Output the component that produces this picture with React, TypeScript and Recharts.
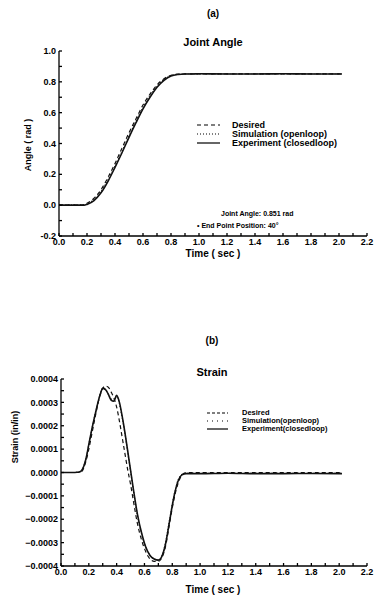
import React from 'react';
import { LineChart, Line, XAxis, YAxis } from 'recharts';

// ---------- shared ----------
const timeTicks = [0, 0.1, 0.2, 0.3, 0.4, 0.5, 0.6, 0.7, 0.8, 0.9, 1.0, 1.1, 1.2, 1.3, 1.4, 1.5, 1.6, 1.7, 1.8, 1.9, 2.0, 2.1, 2.2];

// ---------- (a) Joint Angle ----------
const angleTime = [0, 0.1, 0.15, 0.18, 0.2, 0.25, 0.3, 0.35, 0.4, 0.45, 0.5, 0.55, 0.6, 0.65, 0.7, 0.75, 0.8, 0.85, 0.9, 0.95, 1.0, 1.2, 1.4, 1.6, 1.8, 2.02];
const angleDesired = [0, 0, 0, 0.002, 0.012, 0.045, 0.1, 0.18, 0.27, 0.37, 0.47, 0.56, 0.65, 0.72, 0.78, 0.82, 0.843, 0.85, 0.851, 0.851, 0.851, 0.851, 0.851, 0.851, 0.851, 0.851];
const angleSimulation = [0, 0, 0, 0.001, 0.008, 0.038, 0.09, 0.165, 0.255, 0.35, 0.45, 0.545, 0.635, 0.71, 0.77, 0.815, 0.84, 0.849, 0.851, 0.851, 0.851, 0.851, 0.851, 0.851, 0.851, 0.851];
const angleExperiment = [0, 0, 0, 0, 0.005, 0.03, 0.08, 0.155, 0.245, 0.34, 0.44, 0.535, 0.625, 0.7, 0.765, 0.81, 0.838, 0.848, 0.851, 0.851, 0.852, 0.851, 0.851, 0.852, 0.851, 0.851];
const angleTicks = [-0.2, -0.1, 0, 0.1, 0.2, 0.3, 0.4, 0.5, 0.6, 0.7, 0.8, 0.9, 1.0];

// ---------- (b) Strain (units of 1e-4 in/in) ----------
const strainTime = [0, 0.1, 0.13, 0.15, 0.18, 0.2, 0.22, 0.25, 0.28, 0.3, 0.32, 0.34, 0.36, 0.38, 0.4, 0.42, 0.44, 0.46, 0.48, 0.5, 0.52, 0.55, 0.58, 0.61, 0.64, 0.67, 0.7, 0.72, 0.75, 0.78, 0.81, 0.84, 0.87, 0.9, 0.95, 1.0, 1.2, 1.4, 1.6, 1.8, 2.02];
const strainDesired = [0, 0, 0, 0.05, 0.5, 1.0, 1.6, 2.5, 3.3, 3.6, 3.7, 3.65, 3.45, 3.2, 2.8, 2.2, 1.5, 0.8, 0.1, -0.5, -1.2, -2.2, -2.9, -3.4, -3.7, -3.8, -3.8, -3.7, -3.2, -2.2, -1.2, -0.5, -0.1, 0, 0, 0, 0, 0, 0, 0, 0];
const strainSimulation = [0, 0, 0.02, 0.1, 0.6, 1.2, 1.8, 2.6, 3.3, 3.6, 3.55, 3.35, 3.15, 3.1, 3.25, 2.95, 2.35, 1.65, 0.85, 0.05, -0.75, -1.85, -2.65, -3.2, -3.55, -3.7, -3.75, -3.62, -3.05, -2.05, -1.05, -0.35, -0.08, -0.04, -0.04, -0.04, -0.04, -0.04, -0.04, -0.04, -0.04];
const strainExperiment = [0, 0, 0.02, 0.1, 0.6, 1.2, 1.8, 2.6, 3.3, 3.6, 3.55, 3.35, 3.1, 3.05, 3.3, 3.0, 2.4, 1.7, 0.9, 0.1, -0.7, -1.8, -2.6, -3.2, -3.55, -3.7, -3.75, -3.65, -3.1, -2.1, -1.1, -0.4, -0.1, -0.05, -0.05, -0.05, -0.03, -0.05, -0.05, -0.04, -0.05];
const strainTicks = [-4, -3.5, -3, -2.5, -2, -1.5, -1, -0.5, 0, 0.5, 1, 1.5, 2, 2.5, 3, 3.5, 4];

const angleData = angleTime.map((t, i) => ({ t, d: angleDesired[i], s: angleSimulation[i], e: angleExperiment[i] }));
const strainData = strainTime.map((t, i) => ({ t, d: strainDesired[i], s: strainSimulation[i], e: strainExperiment[i] }));

const FONT = '"Liberation Sans", Arial, sans-serif';

const isMult = (v: number, step: number) => Math.abs(v / step - Math.round(v / step)) < 1e-6;

const XTick = (props: any) => {
  const { x, y, payload } = props;
  if (!isMult(payload.value, 0.2)) return <g />;
  return (
    <text x={x} y={y} dy="0.71em" textAnchor="middle" fontSize={9} fontWeight={700} fontFamily={FONT} fill="#000">
      {payload.value.toFixed(1)}
    </text>
  );
};

const AngleTick = (props: any) => {
  const { x, y, payload } = props;
  if (!isMult(payload.value, 0.2)) return <g />;
  return (
    <text x={x} y={y} dy="0.35em" textAnchor="end" fontSize={9} fontWeight={700} fontFamily={FONT} fill="#000">
      {payload.value.toFixed(1)}
    </text>
  );
};

const StrainTick = (props: any) => {
  const { x, y, payload } = props;
  if (!isMult(payload.value, 1)) return <g />;
  const v = payload.value * 1e-4;
  return (
    <text x={x} y={y} dy="0.35em" textAnchor="end" fontSize={9} fontWeight={700} fontFamily={FONT} fill="#000">
      {(v < 0 ? '\u2212' : '') + Math.abs(v).toFixed(4)}
    </text>
  );
};

const Txt = ({ x, y, size, children, rotate, left, weight }: any) => (
  <div
    style={{
      position: 'absolute',
      left: x,
      top: y,
      transform: `translate(${left ? '0' : '-50%'}, -50%)${rotate ? ' rotate(-90deg)' : ''}`,
      fontFamily: FONT,
      fontSize: size,
      fontWeight: weight ?? 700,
      whiteSpace: 'nowrap',
      lineHeight: 1,
      color: '#000',
    }}
  >
    {children}
  </div>
);

const LegendRow = ({ x1, x2, y, dash, textX, size, label }: any) => (
  <>
    <svg style={{ position: 'absolute', left: 0, top: 0, overflow: 'visible' }} width={1} height={1}>
      <line x1={x1} x2={x2} y1={y} y2={y} stroke="#000" strokeWidth={1.2} strokeDasharray={dash} />
    </svg>
    <Txt x={textX} y={y} size={size} left>
      {label}
    </Txt>
  </>
);

const lineStroke = '#111';

export default function App() {
  return (
    <div style={{ position: 'absolute', left: 0, top: 0, width: 376, height: 595, background: '#fff', overflow: 'hidden' }}>
      {/* Chart (a) */}
      <div style={{ position: 'absolute', left: 0, top: 0 }}>
        <LineChart width={376} height={270} data={angleData} margin={{ top: 51, right: 9, bottom: 0, left: 0 }}>
          <XAxis
            dataKey="t"
            type="number"
            domain={[0, 2.2]}
            ticks={timeTicks}
            interval={0}
            height={34}
            tickSize={-3}
            tickMargin={6}
            tick={<XTick />}
            stroke="#000"
            strokeWidth={1.3}
            allowDataOverflow
          />
          <XAxis xAxisId="top" orientation="top" type="number" domain={[0, 2.2]} height={0} tick={false} tickLine={false} stroke="#000" strokeWidth={1.3} />
          <YAxis
            type="number"
            domain={[-0.2, 1.0]}
            ticks={angleTicks}
            interval={0}
            width={59}
            tickSize={-3}
            tickMargin={6}
            tick={<AngleTick />}
            stroke="#000"
            strokeWidth={1.3}
            allowDataOverflow
          />
          <YAxis yAxisId="right" orientation="right" type="number" domain={[-0.2, 1.0]} width={0} tick={false} tickLine={false} stroke="#000" strokeWidth={1.3} />
          <Line dataKey="d" type="monotone" stroke={lineStroke} strokeWidth={1.2} strokeDasharray="4 3" dot={false} isAnimationActive={false} />
          <Line dataKey="s" type="monotone" stroke={lineStroke} strokeWidth={1.2} strokeDasharray="1 2" dot={false} isAnimationActive={false} />
          <Line dataKey="e" type="monotone" stroke={lineStroke} strokeWidth={1.6} dot={false} isAnimationActive={false} />
        </LineChart>
      </div>
      <Txt x={213} y={14} size={10}>(a)</Txt>
      <Txt x={213} y={42} size={11} weight={600}>Joint Angle</Txt>
      <Txt x={28} y={145} size={9} rotate>Angle ( rad )</Txt>
      <Txt x={213} y={254} size={10}>Time ( sec )</Txt>
      <LegendRow x1={197} x2={220} y={125} dash="4 3" textX={232} size={9} label="Desired" />
      <LegendRow x1={197} x2={220} y={134} dash="1 2" textX={232} size={9} label="Simulation (openloop)" />
      <LegendRow x1={197} x2={220} y={143} textX={232} size={9} label="Experiment (closedloop)" />
      <Txt x={221} y={213} size={7} left>Joint Angle: 0.851 rad</Txt>
      <Txt x={197} y={225} size={7} left>{'\u2022  End Point Position: 40\u00b0'}</Txt>

      {/* Chart (b) */}
      <div style={{ position: 'absolute', left: 0, top: 330 }}>
        <LineChart width={376} height={265} data={strainData} margin={{ top: 49, right: 9, bottom: 0, left: 0 }}>
          <XAxis
            dataKey="t"
            type="number"
            domain={[0, 2.2]}
            ticks={timeTicks}
            interval={0}
            height={29}
            tickSize={-3}
            tickMargin={6}
            tick={<XTick />}
            stroke="#000"
            strokeWidth={1.3}
            allowDataOverflow
          />
          <XAxis xAxisId="top" orientation="top" type="number" domain={[0, 2.2]} height={0} tick={false} tickLine={false} stroke="#000" strokeWidth={1.3} />
          <YAxis
            type="number"
            domain={[-4, 4]}
            ticks={strainTicks}
            interval={0}
            width={61}
            tickSize={-3}
            tickMargin={6}
            tick={<StrainTick />}
            stroke="#000"
            strokeWidth={1.3}
            allowDataOverflow
          />
          <YAxis yAxisId="right" orientation="right" type="number" domain={[-4, 4]} width={0} tick={false} tickLine={false} stroke="#000" strokeWidth={1.3} />
          <Line dataKey="d" type="monotone" stroke={lineStroke} strokeWidth={1.2} strokeDasharray="4 3" dot={false} isAnimationActive={false} />
          <Line dataKey="s" type="monotone" stroke={lineStroke} strokeWidth={1.2} strokeDasharray="1 2" dot={false} isAnimationActive={false} />
          <Line dataKey="e" type="monotone" stroke={lineStroke} strokeWidth={1.6} dot={false} isAnimationActive={false} />
        </LineChart>
      </div>
      <Txt x={212} y={341} size={10}>(b)</Txt>
      <Txt x={212} y={372} size={11} weight={600}>Strain</Txt>
      <Txt x={15} y={437} size={9} rotate>Strain (in/in)</Txt>
      <Txt x={213} y={590} size={10}>Time ( sec )</Txt>
      <LegendRow x1={207} x2={228} y={413} dash="3 2" textX={242} size={7.5} label="Desired" />
      <LegendRow x1={207} x2={228} y={421} dash="1 4" textX={242} size={7.5} label="Simulation(openloop)" />
      <LegendRow x1={207} x2={228} y={429} textX={242} size={7.5} label="Experiment(closedloop)" />
    </div>
  );
}
